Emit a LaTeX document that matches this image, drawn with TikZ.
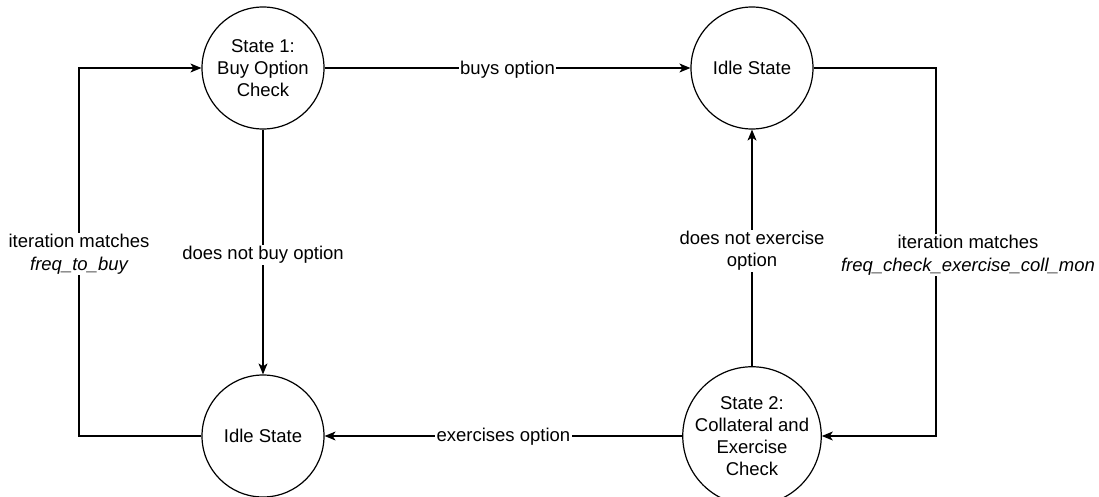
\documentclass[tikz,border=0pt]{standalone}
\usepackage{fontspec}
\setmainfont{Liberation Sans}
\usetikzlibrary{arrows.meta}
\tikzset{
  statenode/.style={draw, circle, line width=1.2pt, minimum size=122pt, inner sep=0pt, align=center, font=\fontsize{18.5}{22}\selectfont},
  conn/.style={line width=1.2pt, -{Stealth[length=11pt,width=9pt,inset=3pt]}},
  lbl/.style={fill=white, inner sep=1.5pt, align=center, font=\fontsize{18.5}{22.5}\selectfont}
}
\begin{document}
\begin{tikzpicture}[x=1pt,y=-1pt]
\useasboundingbox (0,0) rectangle (1099,497);
\node[statenode] (s1) at (263,68) {State 1:\\Buy Option\\Check};
\node[statenode] (i1) at (752,68) {Idle State};
\node[statenode] (i2) at (263,436) {Idle State};
\node[statenode] (s2) at (752,436) {State 2:\\Collateral and\\Exercise\\Check};
\coordinate (lb) at (79,436);
\coordinate (lt) at (79,68);
\coordinate (rt) at (936,68);
\coordinate (rb) at (936,436);
\draw[conn] (s1.east) -- node[lbl, yshift=-2pt] {buys option} (i1.west);
\draw[conn] (s1.south) -- node[lbl, yshift=-3pt] {does not buy option} (i2.north);
\draw[conn] (s2.west) -- node[lbl, yshift=-1pt] {exercises option} (i2.east);
\draw[conn] (s2.north) -- node[lbl, yshift=-3pt] {does not exercise\\option} (i1.south);
\draw[conn] (i2.west) -- (lb) -- node[lbl, yshift=-2pt] {iteration matches\\\itshape freq\_to\_buy} (lt) -- (s1.west);
\draw[conn] (i1.east) -- (rt) -- node[lbl, xshift=32pt, yshift=-3pt] {iteration matches\\\itshape freq\_check\_exercise\_coll\_mon} (rb) -- (s2.east);
\end{tikzpicture}
\end{document}
